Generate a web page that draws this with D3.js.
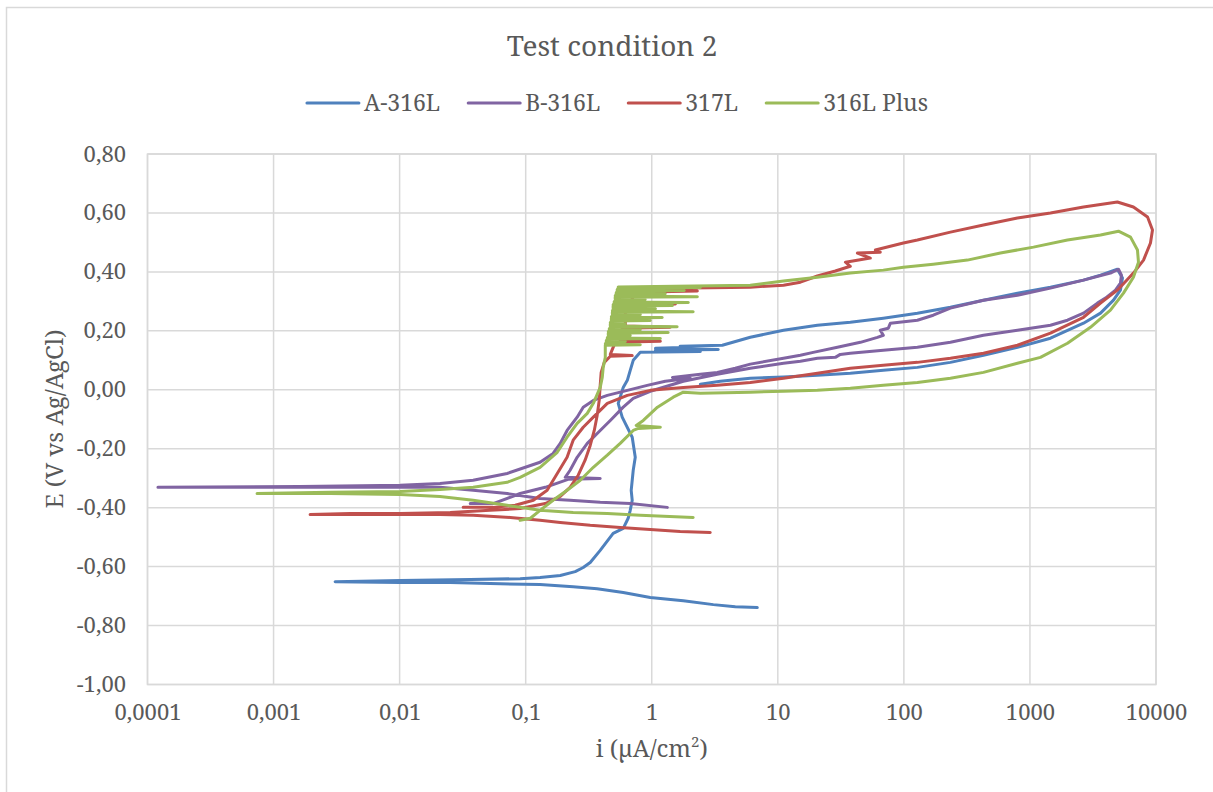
<!DOCTYPE html>
<html>
<head>
<meta charset="utf-8">
<script src="https://cdn.jsdelivr.net/npm/d3@7"></script>
<style>
html,body{margin:0;padding:0;background:#fff;}
svg{display:block;}
</style>
</head>
<body>
<svg id="chart" width="1213" height="792"></svg>
<script>
// ---- chart data ----
const chartTitle = "Test condition 2";
const seriesNames = ["A-316L", "B-316L", "317L", "316L Plus"];
const seriesColors = ["#4f81bd", "#8064a2", "#c0504d", "#9bbb59"];

const xTickValues = [0.0001, 0.001, 0.01, 0.1, 1, 10, 100, 1000, 10000];
const xTickLabels = ["0,0001", "0,001", "0,01", "0,1", "1", "10", "100", "1000", "10000"];
const yTickValues = [0.8, 0.6, 0.4, 0.2, 0, -0.2, -0.4, -0.6, -0.8, -1];
const yTickLabels = ["0,80", "0,60", "0,40", "0,20", "0,00", "-0,20", "-0,40", "-0,60", "-0,80", "-1,00"];

// Each point: [current density i (µA/cm²), potential E (V vs Ag/AgCl)]
const a316L = [
  [6.87,-0.739],[4.60,-0.736],[3.08,-0.729],[1.78,-0.716],[0.973,-0.705],[0.594,-0.688],[0.369,-0.675],
  [0.238,-0.668],[0.130,-0.661],[0.0628,-0.658],[0.0252,-0.654],[0.0101,-0.654],[0.00308,-0.651],
  [0.0101,-0.647],[0.0363,-0.644],[0.0904,-0.641],[0.130,-0.637],[0.188,-0.630],[0.247,-0.617],
  [0.286,-0.603],[0.325,-0.586],[0.390,-0.545],[0.494,-0.487],[0.594,-0.470],[0.650,-0.436],
  [0.675,-0.409],[0.700,-0.375],[0.687,-0.341],[0.713,-0.273],[0.740,-0.229],[0.700,-0.161],
  [0.617,-0.114],[0.583,-0.093],[0.542,-0.046],[0.562,-0.025],[0.594,0.008],[0.640,0.032],
  [0.675,0.066],[0.713,0.100],[0.811,0.127],[2.43,0.130],[1.07,0.134],[3.37,0.137],[1.07,0.141],
  [2.02,0.144],[1.68,0.148],[3.63,0.151],[6.05,0.178],[11.1,0.202],[20.6,0.219],[37.6,0.229],
  [68.7,0.243],[128,0.260],[234,0.280],[428,0.304],[796,0.328],[1455,0.348],[2660,0.372],
  [3630,0.389],[4940,0.409],[5420,0.379],[5220,0.338],[4600,0.304],[3630,0.260],[2660,0.226],
  [1455,0.175],[796,0.144],[428,0.117],[234,0.093],[128,0.076],[68.7,0.066],[37.6,0.056],
  [20.6,0.049],[11.1,0.043],[6.05,0.039],[3.50,0.029],[2.43,0.019]
];

const b316L = [
  [1.33,-0.399],[0.675,-0.386],[0.390,-0.382],[0.225,-0.375],[0.130,-0.369],[0.0713,-0.352],
  [0.0383,-0.341],[0.0209,-0.331],[0.0101,-0.331],[0.00162,-0.331],[0.000121,-0.331],
  [0.00162,-0.328],[0.0101,-0.324],[0.0209,-0.318],[0.0383,-0.307],[0.0713,-0.284],[0.130,-0.246],
  [0.165,-0.216],[0.188,-0.182],[0.213,-0.138],[0.256,-0.093],[0.286,-0.059],[0.344,-0.036],
  [0.444,-0.019],[0.640,-0.002],[0.920,0.015],[1.28,0.029],[2.02,0.039],[1.46,0.042],[2.43,0.053],
  [3.31,0.059],[4.60,0.073],[6.05,0.087],[11.1,0.107],[15.1,0.117],[19.1,0.127],[29.7,0.144],
  [45.2,0.161],[61.7,0.178],[68.7,0.185],[65.0,0.202],[75.3,0.209],[78.2,0.226],[128,0.236],
  [171,0.253],[234,0.277],[428,0.304],[796,0.321],[1455,0.345],[2660,0.372],[4350,0.396],
  [5040,0.409],[5320,0.389],[5220,0.362],[4770,0.338],[3970,0.311],[3430,0.294],[2660,0.260],
  [1985,0.236],[1455,0.219],[796,0.202],[428,0.185],[234,0.161],[128,0.144],[68.7,0.134],
  [37.6,0.124],[31.3,0.120],[28.6,0.110],[20.6,0.107],[15.1,0.097],[11.1,0.090],[6.05,0.073],
  [3.31,0.053],[1.78,0.029],[0.973,-0.005],[0.713,-0.029],[0.594,-0.059],[0.469,-0.104],
  [0.390,-0.138],[0.308,-0.182],[0.256,-0.229],[0.225,-0.273],[0.206,-0.297],[0.390,-0.301],
  [0.217,-0.304],[0.143,-0.331],[0.0904,-0.352],[0.0552,-0.386],[0.0363,-0.386]
];

const s317L = [
  [2.91,-0.484],[1.68,-0.481],[0.973,-0.474],[0.562,-0.467],[0.325,-0.460],[0.188,-0.450],
  [0.130,-0.443],[0.0754,-0.433],[0.0383,-0.426],[0.0209,-0.423],[0.0101,-0.423],[0.00405,-0.423],
  [0.00195,-0.423],[0.00405,-0.420],[0.0101,-0.420],[0.0252,-0.416],[0.0522,-0.409],[0.0904,-0.403],
  [0.143,-0.386],[0.188,-0.362],[0.225,-0.331],[0.261,-0.290],[0.296,-0.239],[0.325,-0.189],
  [0.350,-0.138],[0.369,-0.087],[0.383,-0.036],[0.390,0.015],[0.397,0.059],[0.420,0.093],
  [0.469,0.114],[0.700,0.116],[0.469,0.120],[0.513,0.161],[1.17,0.165],[0.562,0.168],
  [0.583,0.209],[1.40,0.212],[0.617,0.216],[0.617,0.287],[1.54,0.291],[0.675,0.294],
  [0.740,0.331],[2.30,0.335],[0.740,0.338],[2.02,0.345],[6.05,0.348],[11.1,0.355],
  [15.1,0.365],[20.6,0.386],[28.6,0.403],[37.6,0.419],[34.4,0.433],[54.2,0.447],[42.8,0.464],
  [65.0,0.467],[59.4,0.474],[99.1,0.498],[128,0.508],[234,0.535],[428,0.559],[796,0.583],
  [1455,0.600],[2660,0.620],[4940,0.637],[6620,0.620],[8570,0.586],[9380,0.542],[9040,0.498],
  [7960,0.440],[6620,0.396],[4940,0.338],[3630,0.294],[2660,0.246],[1455,0.192],[796,0.151],
  [428,0.124],[234,0.107],[128,0.093],[68.7,0.083],[37.6,0.073],[20.6,0.056],[11.1,0.039],
  [6.05,0.025],[3.31,0.015],[1.78,0.008],[0.973,-0.002],[0.640,-0.019],[0.444,-0.046],
  [0.344,-0.093],[0.286,-0.127],[0.238,-0.171],[0.213,-0.229],[0.178,-0.284],[0.148,-0.341],
  [0.115,-0.375],[0.0826,-0.392],[0.0552,-0.399],[0.0319,-0.399]
];

const plus316L = [
  [2.13,-0.433],[0.811,-0.426],[0.444,-0.420],[0.238,-0.416],[0.130,-0.409],[0.0713,-0.392],
  [0.0383,-0.375],[0.0209,-0.362],[0.0101,-0.355],[0.00281,-0.352],[0.000740,-0.352],
  [0.00281,-0.348],[0.0101,-0.345],[0.0209,-0.338],[0.0383,-0.331],[0.0713,-0.314],[0.0904,-0.297],
  [0.130,-0.263],[0.178,-0.212],[0.213,-0.161],[0.256,-0.114],[0.308,-0.080],[0.344,-0.046],
  [0.390,0.008],[0.405,0.042],[0.412,0.076],[0.428,0.110],
  // unstable passive region: metastable pitting transients
  [0.428,0.151],[0.811,0.153],[0.428,0.155],
  [0.436,0.162],[0.617,0.164],[0.436,0.166],
  [0.444,0.172],[1.17,0.174],[0.444,0.176],
  [0.452,0.182],[0.675,0.184],[0.452,0.186],
  [0.452,0.192],[1.35,0.194],[0.452,0.196],
  [0.460,0.202],[0.811,0.204],[0.460,0.206],
  [0.469,0.212],[1.59,0.214],[0.469,0.216],
  [0.469,0.223],[0.617,0.225],[0.469,0.227],
  [0.478,0.233],[0.973,0.235],[0.478,0.237],
  [0.478,0.243],[1.21,0.245],[0.478,0.247],
  [0.487,0.253],[0.811,0.255],[0.487,0.257],
  [0.487,0.263],[2.13,0.265],[0.487,0.267],
  [0.494,0.273],[1.07,0.275],[0.494,0.277],
  [0.494,0.284],[1.46,0.286],[0.494,0.288],
  [0.503,0.294],[1.95,0.296],[0.503,0.298],
  [0.513,0.304],[0.887,0.306],[0.513,0.308],
  [0.513,0.314],[2.30,0.316],[0.513,0.318],
  [0.522,0.324],[1.28,0.326],[0.522,0.328],
  [0.532,0.335],[1.81,0.337],[0.532,0.339],
  [0.542,0.345],[2.43,0.347],[0.542,0.349],
  [6.05,0.355],
  [11.1,0.369],[20.6,0.382],[37.6,0.396],[68.7,0.406],[99.1,0.416],[171,0.426],[319,0.440],
  [583,0.464],[1067,0.484],[1985,0.508],[3630,0.525],[5040,0.538],[6280,0.518],[7130,0.474],
  [7260,0.433],[6620,0.382],[5520,0.328],[4350,0.270],[3020,0.212],[1985,0.158],[1211,0.110],
  [796,0.090],[428,0.059],[234,0.039],[128,0.025],[68.7,0.015],[37.6,0.005],[20.6,-0.002],
  [11.1,-0.005],[6.05,-0.008],[2.43,-0.012],[1.78,-0.008],[1.48,-0.025],[1.11,-0.059],
  [0.857,-0.104],[0.753,-0.121],[1.17,-0.127],[0.782,-0.131],[0.713,-0.138],[0.562,-0.182],
  [0.444,-0.222],[0.344,-0.263],[0.271,-0.307],[0.213,-0.341],[0.165,-0.375],[0.130,-0.409],
  [0.109,-0.436],[0.0904,-0.443]
];

const seriesData = [a316L, b316L, s317L, plus316L];

// ---- layout and style ----
const plot = {left: 147.5, right: 1156, top: 154, bottom: 684.5};
const font = "'Noto Serif', 'Liberation Serif', 'Times New Roman', serif";
const textColor = "#595959";
const gridColor = "#d9d9d9";

const svg = d3.select("#chart");

// chart frame
svg.append("rect")
  .attr("x", 6.5).attr("y", 7.5).attr("width", 1240).attr("height", 820)
  .attr("fill", "#fff").attr("stroke", gridColor).attr("stroke-width", 1.5);

const x = d3.scaleLog().domain([1e-4, 1e4]).range([plot.left, plot.right]);
const y = d3.scaleLinear().domain([-1, 0.8]).range([plot.bottom, plot.top]);

// gridlines
const grid = svg.append("g").attr("stroke", gridColor).attr("stroke-width", 1.5);
grid.selectAll("line.h").data(yTickValues).join("line").attr("class", "h")
  .attr("x1", plot.left).attr("x2", plot.right)
  .attr("y1", d => y(d)).attr("y2", d => y(d));
grid.selectAll("line.v").data(xTickValues).join("line").attr("class", "v")
  .attr("y1", plot.top).attr("y2", plot.bottom)
  .attr("x1", d => x(d)).attr("x2", d => x(d));
svg.append("rect")
  .attr("x", plot.left).attr("y", plot.top)
  .attr("width", plot.right - plot.left).attr("height", plot.bottom - plot.top)
  .attr("fill", "none").attr("stroke", gridColor).attr("stroke-width", 1.5);

// axes (labels only)
const xAxis = d3.axisBottom(x).tickValues(xTickValues)
  .tickFormat(d => xTickLabels[xTickValues.indexOf(d)]).tickSize(0);
const gx = svg.append("g").attr("transform", `translate(0,${plot.bottom})`).call(xAxis);
gx.attr("font-family", font).attr("font-size", 22);
gx.select(".domain").remove();
gx.selectAll("text").attr("y", 35).attr("dy", 0).attr("fill", textColor);

const yAxis = d3.axisLeft(y).tickValues(yTickValues)
  .tickFormat(d => yTickLabels[yTickValues.indexOf(d)]).tickSize(0).tickPadding(21.5);
const gy = svg.append("g").attr("transform", `translate(${plot.left},0)`).call(yAxis);
gy.attr("font-family", font).attr("font-size", 22);
gy.select(".domain").remove();
gy.selectAll("text").attr("fill", textColor);

// axis titles
const xt = svg.append("text")
  .attr("x", (plot.left + plot.right) / 2).attr("y", 757)
  .attr("text-anchor", "middle").attr("font-family", font).attr("font-size", 24).attr("fill", textColor);
xt.append("tspan").text("i (µA/cm");
xt.append("tspan").attr("font-size", 15).attr("dy", -10).text("2");
xt.append("tspan").attr("dy", 10).text(")");

svg.append("text")
  .attr("transform", "translate(63,419) rotate(-90)")
  .attr("text-anchor", "middle").attr("font-family", font).attr("font-size", 24).attr("fill", textColor)
  .text("E (V vs Ag/AgCl)");

// title
svg.append("text")
  .attr("x", 612).attr("y", 56)
  .attr("text-anchor", "middle").attr("font-family", font).attr("font-size", 28).attr("fill", textColor)
  .text(chartTitle);

// series
const line = d3.line()
  .x(d => x(d[0])).y(d => y(d[1]))
  .curve(d3.curveLinear);

const seriesG = svg.append("g");
seriesData.forEach((data, k) => {
  seriesG.append("path")
    .datum(data)
    .attr("d", line)
    .attr("fill", "none")
    .attr("stroke", seriesColors[k])
    .attr("stroke-width", 3)
    .attr("stroke-linejoin", "round")
    .attr("stroke-linecap", "round");
});

// legend
const legend = svg.append("g");
const items = legend.selectAll("g").data(seriesNames).join("g");
items.append("line")
  .attr("x1", 0).attr("x2", 52).attr("y1", 0).attr("y2", 0)
  .attr("stroke", (d, k) => seriesColors[k]).attr("stroke-width", 3).attr("stroke-linecap", "round");
items.append("text")
  .attr("x", 57).attr("y", 8)
  .attr("font-family", font).attr("font-size", 23).attr("fill", textColor)
  .text(d => d);
let cursor = 0;
const gap = 28;
items.each(function() {
  const g = d3.select(this);
  const w = 57 + g.select("text").node().getComputedTextLength();
  g.attr("transform", `translate(${cursor},0)`);
  cursor += w + gap;
});
const totalW = cursor - gap;
legend.attr("transform", `translate(${617.5 - totalW / 2},103)`);
</script>
</body>
</html>
